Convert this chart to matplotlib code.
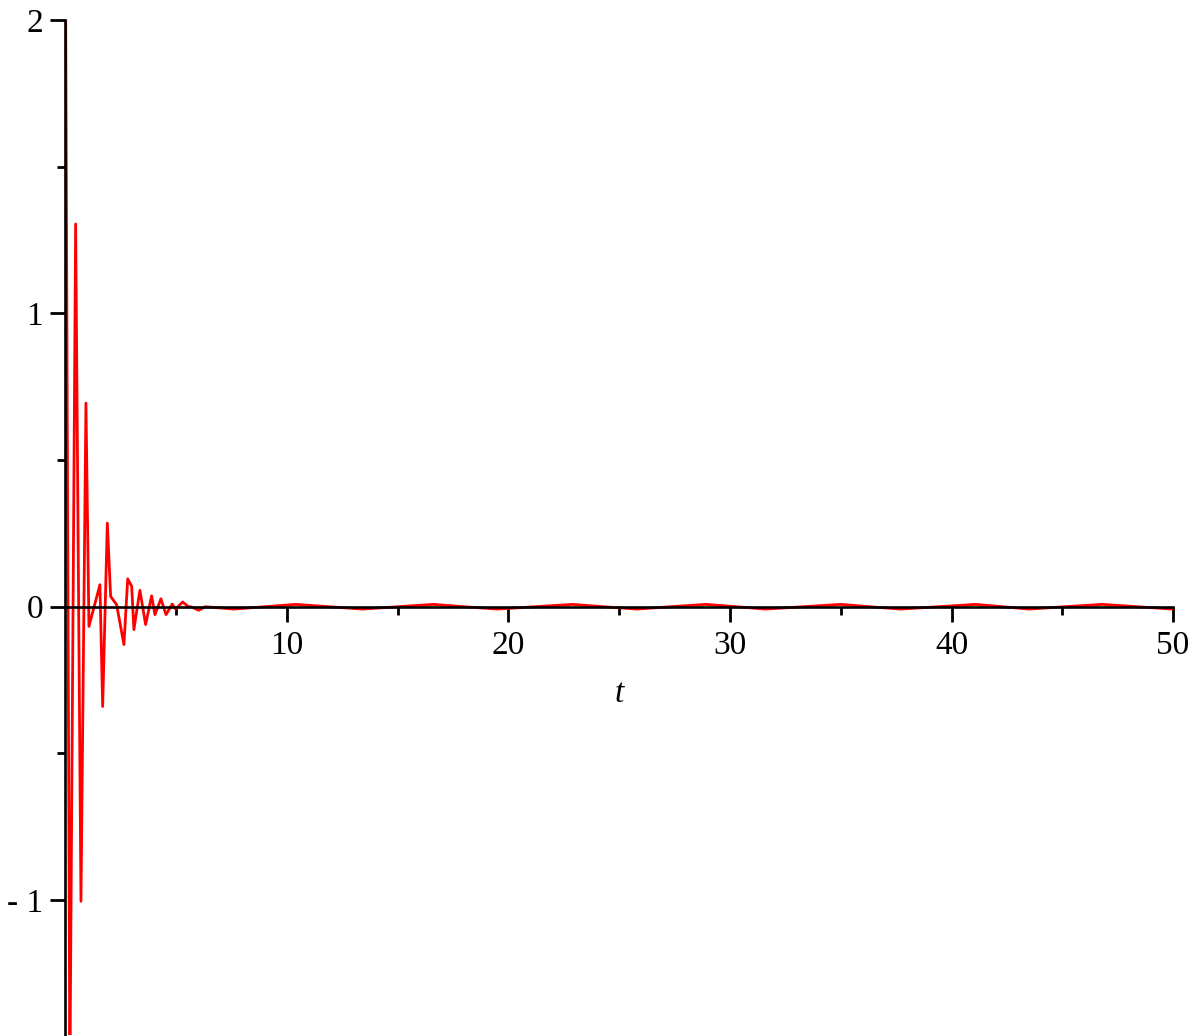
import matplotlib.pyplot as plt
import numpy as np

plt.rcParams["font.family"] = ["Liberation Serif", "DejaVu Serif"]

# values
t = [0, 0.20, 0.46, 0.70, 0.925, 1.06, 1.556, 1.68, 1.89, 2.04, 2.31, 2.64,
     2.81, 2.99, 3.09, 3.36, 3.62, 3.89, 4.04, 4.31, 4.54, 4.82, 4.97, 5.29,
     5.54, 5.69, 6.02, 6.30,
     7.6, 9.0, 10.4, 11.9, 13.4, 15.0, 16.6, 18.0, 19.5, 21.2, 22.9, 24.3,
     25.8, 27.3, 28.9, 30.3, 31.6, 33.3, 35.0, 36.3, 37.7, 39.4, 41.1, 42.3,
     43.5, 45.1, 46.8, 48.4, 50.0]
y = [2.2, -1.6, 1.305, -1.004, 0.694, -0.067, 0.075, -0.340, 0.285, 0.035, 0.007, -0.129,
     0.095, 0.070, -0.078, 0.056, -0.061, 0.037, -0.027, 0.027, -0.027, 0.009, -0.008, 0.016,
     0.001, -0.001, -0.012, 0.0,
     -0.008, 0, 0.008, 0, -0.008, 0, 0.008, 0, -0.008, 0, 0.008, 0,
     -0.008, 0, 0.008, 0, -0.008, 0, 0.008, 0, -0.008, 0, 0.008, 0,
     -0.008, 0, 0.008, 0, -0.008]

xticks = [10, 20, 30, 40, 50]
yticks = [-1, 0, 1, 2]
ylabels = ["- 1", "0", "1", "2"]

fig = plt.figure(figsize=(12.01, 10.36), dpi=100)
ax = fig.add_axes([0.0545, 0.0005, 0.9222, 0.9802])

ax.plot(t, y, color="red", lw=2.0)

ax.set_xlim(0, 50)
ax.set_ylim(-1.4615, 2)

for s in ["top", "right"]:
    ax.spines[s].set_visible(False)
ax.spines["left"].set_position(("data", 0))
ax.spines["bottom"].set_position(("data", 0))
ax.spines["left"].set_linewidth(1.9)
ax.spines["bottom"].set_linewidth(1.9)

ax.set_xticks(xticks)
ax.set_xticks([5, 15, 25, 35, 45], minor=True)
ax.set_yticks(yticks)
ax.set_yticklabels(ylabels)
ax.set_yticks([-0.5, 0.5, 1.5], minor=True)

ax.tick_params(axis="both", which="major", length=11, width=2.0, labelsize=24)
ax.tick_params(axis="both", which="minor", length=5.5, width=2.0)
ax.tick_params(axis="x", which="major", pad=6)
ax.tick_params(axis="y", which="major", pad=5)

ax.set_xlabel("t", fontsize=24, fontstyle="italic")
ax.xaxis.set_label_coords(0.5, 0.337)
ax.xaxis.label.set_va("center")

fig.savefig("out.png", dpi=100, facecolor="white")
